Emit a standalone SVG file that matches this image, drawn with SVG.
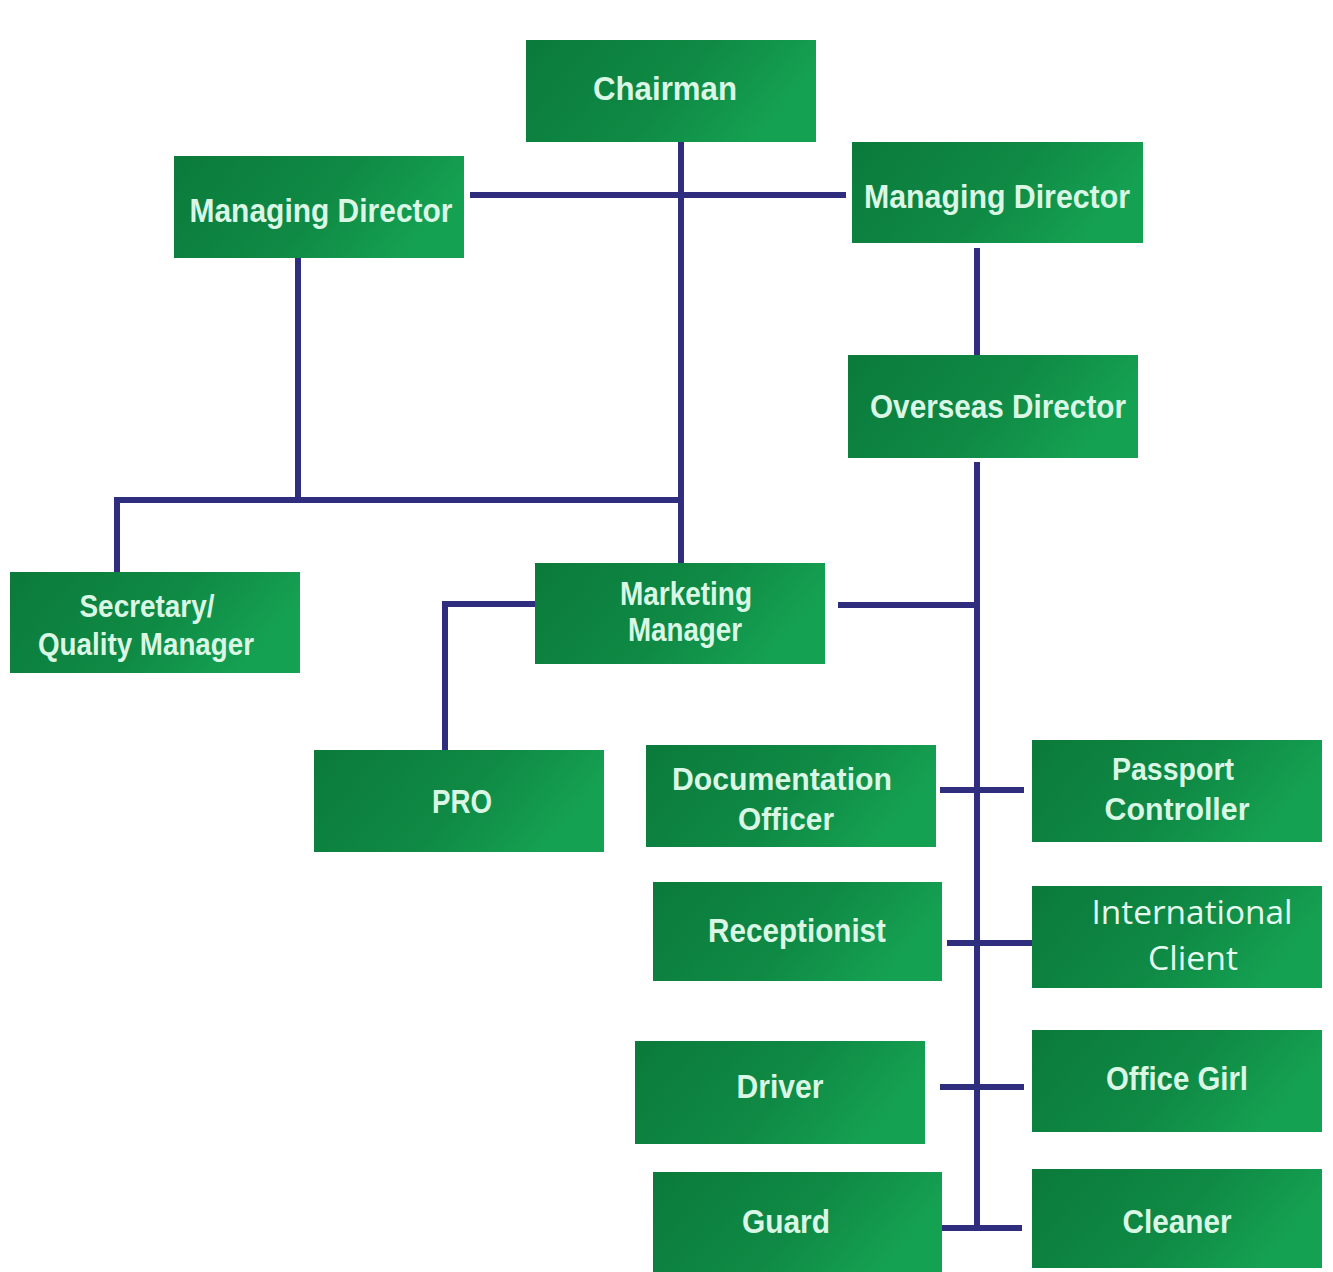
<svg xmlns="http://www.w3.org/2000/svg" width="1333" height="1272" viewBox="0 0 1333 1272">
<defs>
<linearGradient id="g" x1="0" y1="0" x2="1" y2="0.3">
<stop offset="0" stop-color="#0b7a3b"/>
<stop offset="0.6" stop-color="#0f8a45"/>
<stop offset="1" stop-color="#15a152"/>
</linearGradient>
<style>
.box{fill:url(#g);}
.t{font-family:"Liberation Sans","Open Sans",sans-serif;font-weight:700;font-size:34px;fill:#d9f7e4;text-anchor:middle;}
.s{font-size:31px;}
.t2{font-family:"Open Sans","Liberation Sans",sans-serif;font-weight:400;font-size:32px;fill:#e6fbef;text-anchor:middle;}
.ln{stroke:#2f2d7e;stroke-width:6;fill:none;stroke-linecap:butt;}
</style>
</defs>
<rect width="1333" height="1272" fill="#ffffff"/>
<g id="connectors">
<path class="ln" d="M681 142 V563"/>
<path class="ln" d="M470 195 H846"/>
<path class="ln" d="M298 258 V500"/>
<path class="ln" d="M114 500 H681"/>
<path class="ln" d="M117 497 V572"/>
<path class="ln" d="M535 604 H445 V750"/>
<path class="ln" d="M838 605 H977"/>
<path class="ln" d="M977 248 V355"/>
<path class="ln" d="M977 462 V1228"/>
<path class="ln" d="M940 790 H1024"/>
<path class="ln" d="M947 943 H1032"/>
<path class="ln" d="M940 1087 H1024"/>
<path class="ln" d="M940 1228 H1022"/>
</g>
<g id="chairman"><rect class="box" x="526" y="40" width="290" height="102"/><text class="t" x="665" y="100" font-size="30" textLength="144" lengthAdjust="spacingAndGlyphs">Chairman</text></g>
<g id="md-left"><rect class="box" x="174" y="156" width="290" height="102"/><text class="t" x="321" y="222" textLength="263" lengthAdjust="spacingAndGlyphs">Managing Director</text></g>
<g id="md-right"><rect class="box" x="852" y="142" width="291" height="101"/><text class="t" x="997" y="208" textLength="266" lengthAdjust="spacingAndGlyphs">Managing Director</text></g>
<g id="overseas"><rect class="box" x="848" y="355" width="290" height="103"/><text class="t" x="998" y="418" textLength="256" lengthAdjust="spacingAndGlyphs">Overseas Director</text></g>
<g id="secretary"><rect class="box" x="10" y="572" width="290" height="101"/><text class="t s" x="147" y="617" textLength="135" lengthAdjust="spacingAndGlyphs">Secretary/</text><text class="t s" x="146" y="655" textLength="216" lengthAdjust="spacingAndGlyphs">Quality Manager</text></g>
<g id="marketing"><rect class="box" x="535" y="563" width="290" height="101"/><text class="t" x="686" y="605" font-size="30" textLength="132" lengthAdjust="spacingAndGlyphs">Marketing</text><text class="t" x="685" y="641" font-size="30" textLength="114" lengthAdjust="spacingAndGlyphs">Manager</text></g>
<g id="pro"><rect class="box" x="314" y="750" width="290" height="102"/><text class="t" x="462" y="813" textLength="60" lengthAdjust="spacingAndGlyphs">PRO</text></g>
<g id="documentation"><rect class="box" x="646" y="745" width="290" height="102"/><text class="t s" x="782" y="790" textLength="220" lengthAdjust="spacingAndGlyphs">Documentation</text><text class="t s" x="786" y="830" textLength="96" lengthAdjust="spacingAndGlyphs">Officer</text></g>
<g id="passport"><rect class="box" x="1032" y="740" width="290" height="102"/><text class="t s" x="1173" y="780" textLength="122" lengthAdjust="spacingAndGlyphs">Passport</text><text class="t s" x="1177" y="820" textLength="145" lengthAdjust="spacingAndGlyphs">Controller</text></g>
<g id="receptionist"><rect class="box" x="653" y="882" width="289" height="99"/><text class="t" x="797" y="942" textLength="178" lengthAdjust="spacingAndGlyphs">Receptionist</text></g>
<g id="international"><rect class="box" x="1032" y="886" width="290" height="102"/><text class="t2" x="1192" y="924" textLength="201" lengthAdjust="spacingAndGlyphs">International</text><text class="t2" x="1193" y="970" textLength="90" lengthAdjust="spacingAndGlyphs">Client</text></g>
<g id="driver"><rect class="box" x="635" y="1041" width="290" height="103"/><text class="t" x="780" y="1098" textLength="87" lengthAdjust="spacingAndGlyphs">Driver</text></g>
<g id="office-girl"><rect class="box" x="1032" y="1030" width="290" height="102"/><text class="t" x="1177" y="1090" textLength="142" lengthAdjust="spacingAndGlyphs">Office Girl</text></g>
<g id="guard"><rect class="box" x="653" y="1172" width="289" height="100"/><text class="t" x="786" y="1233" textLength="88" lengthAdjust="spacingAndGlyphs">Guard</text></g>
<g id="cleaner"><rect class="box" x="1032" y="1169" width="290" height="99"/><text class="t" x="1177" y="1233" textLength="109" lengthAdjust="spacingAndGlyphs">Cleaner</text></g>
</svg>
